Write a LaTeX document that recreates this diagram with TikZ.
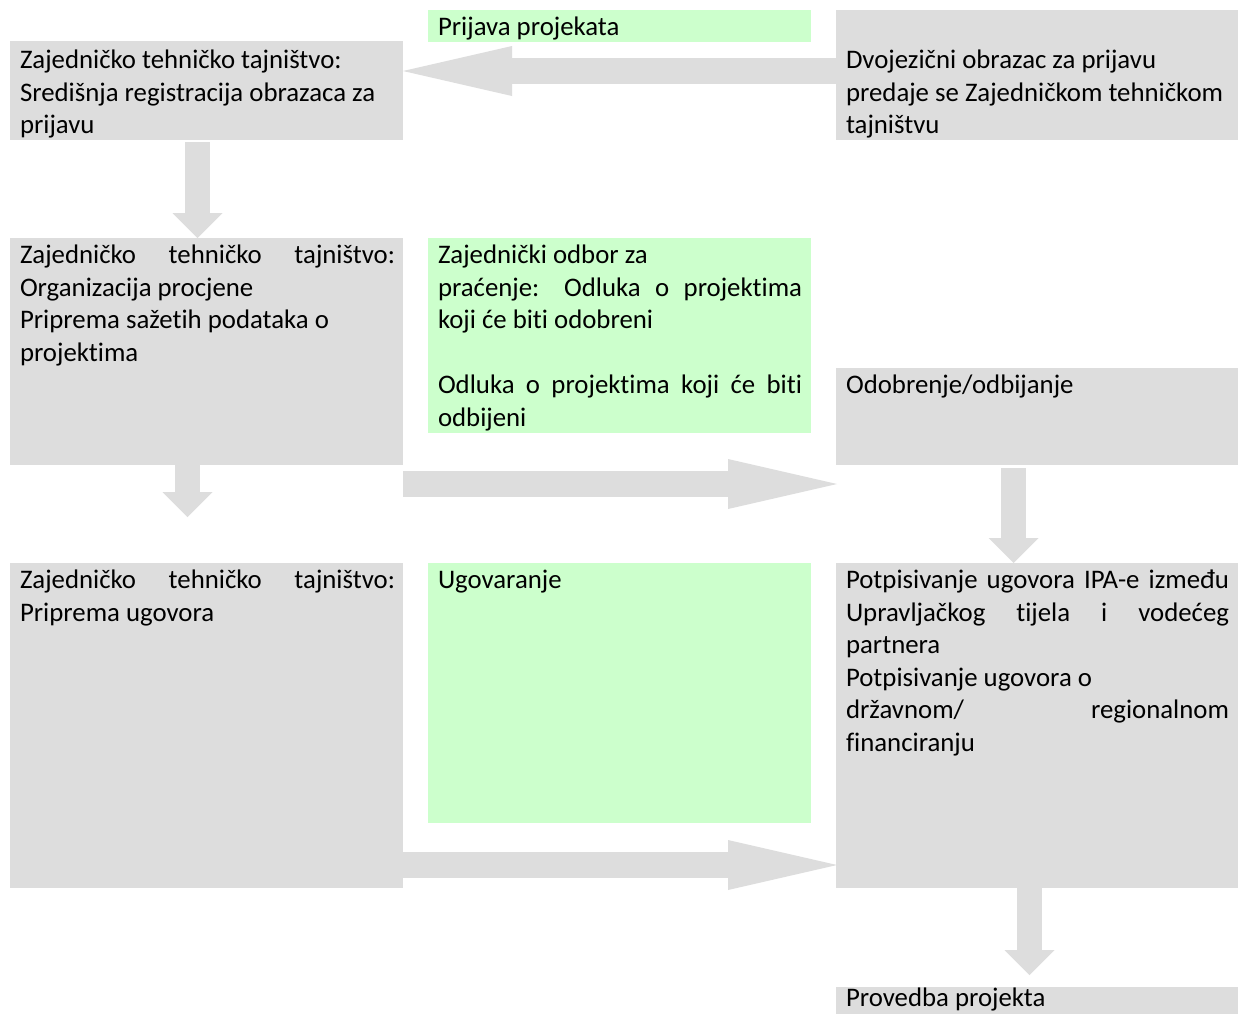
\documentclass[tikz,border=0pt]{standalone}
\usepackage{fontspec}
\setmainfont{Carlito}[Ligatures={NoCommon,NoContextual}]
\usetikzlibrary{arrows.meta}
\definecolor{boxgrey}{HTML}{DDDDDD}
\definecolor{boxgreen}{HTML}{CCFFCC}
\begin{document}
\begin{tikzpicture}[x=1pt,y=-1pt,
  greybox/.style={fill=boxgrey, draw=none},
  greenbox/.style={fill=boxgreen, draw=none},
  txt/.style={anchor=north west, inner sep=0pt, outer sep=0pt, align=left,
    font=\fontsize{26.8}{32.5}\selectfont, text=black},
  harrow/.style={draw=boxgrey, line width=26pt,
    -{Triangle[length=109pt, width=50pt, line width=0pt]}},
  varrow/.style={draw=boxgrey, line width=25pt,
    -{Triangle[length=25pt, width=50pt, line width=0pt]}}]
\useasboundingbox (0,0) rectangle (1241,1013);
\fill[white] (0,0) rectangle (1241,1013);

% boxes
\path[greybox]  (10,41)   rectangle (403,140)  node[pos=0] (b1) {};
\path[greenbox] (428,10)  rectangle (811,42)   node[pos=0] (pr) {};
\path[greybox]  (836,10)  rectangle (1238,140) node[pos=0] (tr) {};
\path[greybox]  (10,238)  rectangle (403,465)  node[pos=0] (b2) {};
\path[greenbox] (428,238) rectangle (811,433)  node[pos=0] (g2) {};
\path[greybox]  (836,368) rectangle (1238,465) node[pos=0] (r2) {};
\path[greybox]  (10,563)  rectangle (403,888)  node[pos=0] (b3) {};
\path[greenbox] (428,563) rectangle (811,823)  node[pos=0] (g3) {};
\path[greybox]  (836,563) rectangle (1238,888) node[pos=0] (r3) {};
\path[greybox]  (836,987) rectangle (1238,1030) node[pos=0] (r4) {};

% texts (north = baseline - 22.75)
\node[txt] (tb1) at (20,45.75) {\strut Zajedničko tehničko tajništvo:\\ Središnja registracija obrazaca za\\ prijavu};
\node[txt] (tpr) at (438,12.75) {\strut Prijava projekata};
\node[txt] (ttr) at (846,45.75) {\strut Dvojezični obrazac za prijavu\\ predaje se Zajedničkom tehničkom\\ tajništvu};
\node[txt] (tb2) at (20,240.75) {\strut\makebox[375pt][s]{Zajedničko tehničko tajništvo:}\\ Organizacija procjene\\ Priprema sažetih podataka o\\ projektima};
\node[txt] (tg2) at (438,240.75) {\strut Zajednički odbor za\\ \makebox[364pt][s]{praćenje: Odluka o projektima}\\ koji će biti odobreni\\ \strut\\ \makebox[364pt][s]{Odluka o projektima koji će biti}\\ odbijeni};
\node[txt] (tr2) at (846,370.75) {\strut Odobrenje/odbijanje};
\node[txt] (tb3) at (20,565.75) {\strut\makebox[375pt][s]{Zajedničko tehničko tajništvo:}\\ Priprema ugovora};
\node[txt] (tg3) at (438,565.75) {\strut Ugovaranje};
\node[txt] (tr3) at (846,565.75) {\strut\makebox[383pt][s]{Potpisivanje ugovora IPA-e između}\\ \makebox[383pt][s]{Upravljačkog tijela i vodećeg}\\ partnera\\ Potpisivanje ugovora o\\ \makebox[383pt][s]{državnom/ regionalnom}\\ financiranju};
\node[txt] (tr4) at (846,984) {\strut Provedba projekta};

% connector end points
\coordinate (a1s) at (836,71);   \coordinate (a1e) at (403,71);
\coordinate (a2s) at (197.5,142); \coordinate (a2e) at (197.5,238);
\coordinate (a3s) at (187.5,410); \coordinate (a3e) at (187.5,517);
\coordinate (a4s) at (403,484);  \coordinate (a4e) at (837,484);
\coordinate (a5s) at (1013.5,468); \coordinate (a5e) at (1013.5,563);
\coordinate (a6s) at (403,865);  \coordinate (a6e) at (837,865);
\coordinate (a7s) at (1029.5,878); \coordinate (a7e) at (1029.5,975);

\draw[harrow] (a1s) -- (a1e);
\draw[varrow] (a2s) -- (a2e);
\draw[varrow] (a3s) -- (a3e);
\draw[harrow] (a4s) -- (a4e);
\draw[varrow] (a5s) -- (a5e);
\draw[harrow] (a6s) -- (a6e);
\draw[varrow] (a7s) -- (a7e);
\end{tikzpicture}
\end{document}
